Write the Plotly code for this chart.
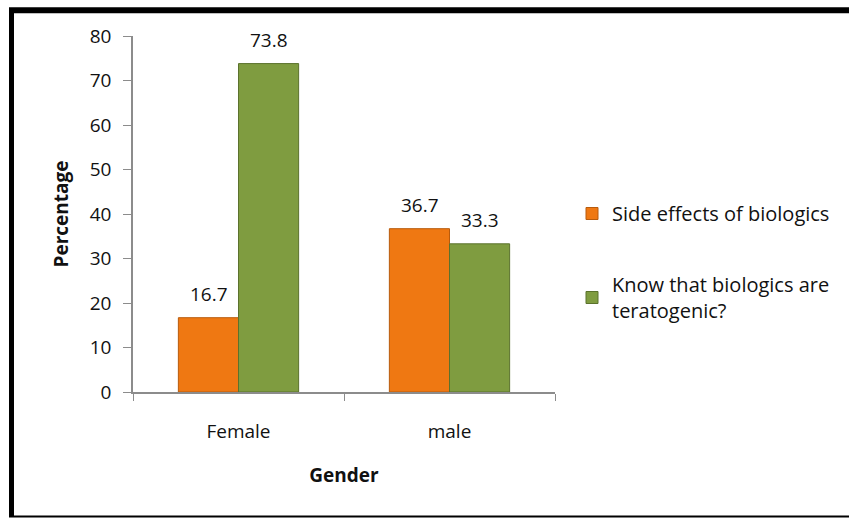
import plotly.graph_objects as go

categories = ["Female", "male"]
side_effects = [16.7, 36.7]
teratogenic = [73.8, 33.3]
series_names = ["Side effects of biologics", "Know that biologics are<br>teratogenic?"]
y_ticks = [0, 10, 20, 30, 40, 50, 60, 70, 80]

FONT = "'Open Sans', sans-serif"

fig = go.Figure()
fig.add_trace(go.Bar(
    x=categories, y=side_effects, name=series_names[0],
    marker=dict(color="#EF7812", line=dict(color="#B85B0C", width=1)),
    legendgroup="a",
))
fig.add_trace(go.Bar(
    x=categories, y=teratogenic, name=series_names[1],
    marker=dict(color="#7F9C40", line=dict(color="#5B722C", width=1)),
    legendgroup="b",
))

# value labels above each bar (bar half-offset = 30 px)
for vals, shift in ((side_effects, -30), (teratogenic, 30)):
    for c, v in zip(categories, vals):
        fig.add_annotation(x=c, y=v, text=f"{v:.1f}", showarrow=False,
                           xshift=shift, yshift=9, yanchor="bottom",
                           font=dict(size=19, color="#111"))

L, R, T, B = 133, 294, 36, 126
W, H = 849 - L - R, 518 - T - B

def px_x(px):
    return (px - L) / W

def px_y(py):
    return (518 - B - py) / H

fig.update_layout(
    width=849, height=518,
    margin=dict(l=L, r=R, t=T, b=B),
    paper_bgcolor="white", plot_bgcolor="white",
    font=dict(family=FONT, size=19, color="#111"),
    barmode="group", bargap=0.43, bargroupgap=0,
    showlegend=True,
    legend=dict(x=px_x(572), y=px_y(194), xanchor="left", yanchor="top",
                font=dict(size=20, color="#111"), traceorder="grouped",
                tracegroupgap=42, itemwidth=30, bgcolor="rgba(0,0,0,0)"),
    xaxis=dict(showline=True, linecolor="#8c8c8c", linewidth=1.5,
               ticks="outside", tickson="boundaries", ticklen=7, tickcolor="#8c8c8c",
               ticklabelstandoff=21,
               tickfont=dict(size=19), title=dict(text="<b>Gender</b>", font=dict(size=19), standoff=26)),
    yaxis=dict(range=[0, 80], tickvals=y_ticks, showline=True, linecolor="#8c8c8c", linewidth=1.5,
               ticks="outside", ticklen=8, tickcolor="#8c8c8c", showgrid=False, zeroline=False,
               ticklabelstandoff=8,
               tickfont=dict(size=19), title=dict(text="<b>Percentage</b>", font=dict(size=19), standoff=16)),
)

# outer frame
fig.add_shape(type="line", xref="paper", yref="paper", x0=px_x(11.5), x1=px_x(11.5),
              y0=px_y(10), y1=px_y(516.5), line=dict(color="black", width=5))
fig.add_shape(type="line", xref="paper", yref="paper", x0=px_x(9), x1=px_x(860),
              y0=px_y(10.3), y1=px_y(10.3), line=dict(color="black", width=6))
fig.add_shape(type="line", xref="paper", yref="paper", x0=px_x(9), x1=px_x(860),
              y0=px_y(516.5), y1=px_y(516.5), line=dict(color="black", width=2))

fig.write_html("out.html")
